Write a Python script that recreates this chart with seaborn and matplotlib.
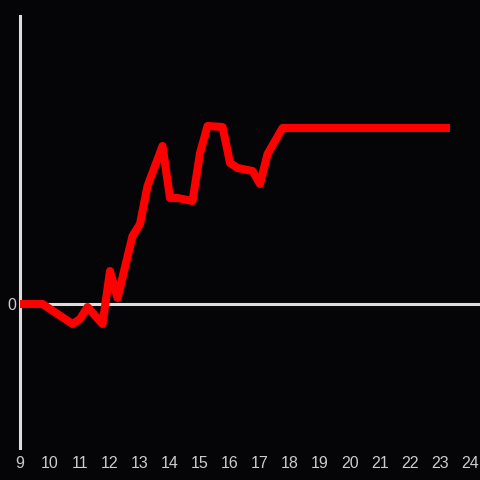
import numpy as np
import pandas as pd
import matplotlib.pyplot as plt
import seaborn as sns

x_vals = [9.0, 9.75, 10.75, 11.0, 11.25, 11.75, 12.0, 12.25, 12.75, 13.0,
          13.25, 13.75, 14.0, 14.25, 14.75, 15.0, 15.25, 15.75, 16.0, 16.25,
          16.75, 17.0, 17.25, 17.75, 23.33]
y_vals = [0, 0, -20, -15, -3, -20, 33, 6, 68, 80,
          118, 158, 106, 106, 103, 151, 178, 177, 141, 136,
          133, 120, 150, 176, 176]
x_ticks = list(range(9, 25))

df = pd.DataFrame({"x": x_vals, "y": y_vals})

bg = "#050407"
sns.set_style("dark", {"axes.facecolor": bg, "figure.facecolor": bg})
plt.rcParams["font.family"] = ["Liberation Sans", "DejaVu Sans"]

fig = plt.figure(figsize=(4.8, 4.8), dpi=100)
ax = fig.add_axes([20 / 480, 32 / 480, 460 / 480, 432 / 480])

ax.axhline(0, color="#dddddd", linewidth=2.2, zorder=1)
sns.lineplot(data=df, x="x", y="y", color="#ff0000", linewidth=5.8,
             ax=ax, zorder=3, sort=False,
             solid_capstyle="butt", solid_joinstyle="round")

ax.set_xlim(9, 24.33)
ax.set_ylim(-144, 288)
ax.set_xticks(x_ticks)
ax.set_yticks([0])
ax.tick_params(length=0, colors="#cccccc", labelsize=11.5, pad=6)
ax.tick_params(axis="y", pad=3)
ax.set_xlabel("")
ax.set_ylabel("")
ax.grid(False)

for side in ["top", "right", "bottom"]:
    ax.spines[side].set_visible(False)
ax.spines["left"].set_color("#dddddd")
ax.spines["left"].set_linewidth(2.2)

plt.savefig("out.png", dpi=100, facecolor=bg)
